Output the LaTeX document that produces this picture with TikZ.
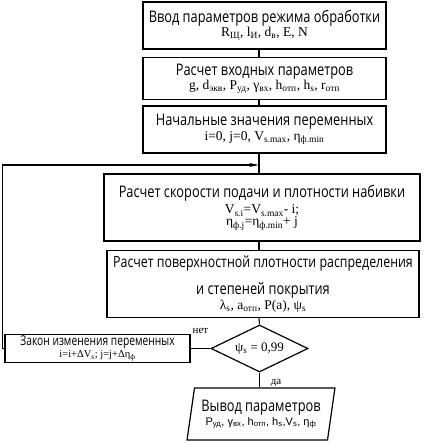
\documentclass[tikz,border=0pt]{standalone}
\usepackage{fontspec}
\setmainfont{Liberation Serif}
\newfontfamily\headfont{Open Sans}[FakeStretch=0.8]
\newfontfamily\lawfont{Open Sans}[FakeStretch=0.76]
\newfontfamily\smallsans{Liberation Sans}
\usetikzlibrary{shapes.geometric,arrows.meta}
\newcommand\sbs[1]{\textsubscript{#1}}
\newcommand\hdf{\headfont\fontsize{16}{17}\selectfont}
\newcommand\frm{\fontsize{13.5}{15}\selectfont}
\begin{document}
\begin{tikzpicture}[x=1pt,y=-1pt,
  blk/.style={draw,line width=1.2pt,rectangle,align=center,inner sep=0pt},
  ln/.style={line width=1.1pt},
  lbl/.style={font=\fontsize{11}{13}\selectfont,inner sep=0pt}]
\useasboundingbox (0,0) rectangle (423,443);
\node[blk,minimum width=243pt,minimum height=47pt] (b1) at (264.5,25.5)
  {{\hdf Ввод параметров режима обработки}\\
   {\frm R\sbs{Щ}, l\sbs{И}, d\sbs{в}, E, N}};
\node[blk,minimum width=243pt,minimum height=42pt] (b2) at (264.5,78.5)
  {{\hdf Расчет входных параметров}\\
   {\frm g, d\sbs{экв}, P\sbs{уд}, γ\sbs{вх}, h\sbs{отп}, h\sbs{s}, r\sbs{отп}}};
\node[blk,minimum width=243pt,minimum height=47pt] (b3) at (264.5,129.5)
  {{\hdf Начальные значения переменных}\\[1pt]
   {\frm i=0, j=0, V\sbs{s.max}, η\sbs{ф.min}}};
\node[blk,minimum width=316pt,minimum height=67pt] (b4) at (262,207.5)
  {{\hdf Расчет скорости подачи и плотности набивки}\\[3pt]
   {\frm V\sbs{s.i}=V\sbs{s.max}- i;}\\
   {\frm η\sbs{ф.j}=η\sbs{ф.min}+ j}};
\node[blk,minimum width=312pt,minimum height=67pt] (b5) at (263,284)
  {{\headfont\fontsize{15.5}{17}\selectfont Расчет поверхностной плотности распределения}\\[10pt]
   {\hdf и степеней покрытия}\\
   {\frm λ\sbs{s}, a\sbs{отп}, P(a), ψ\sbs{s}}};
\node[blk,diamond,minimum width=97pt,minimum height=47pt,aspect=2.06] (d) at (259.5,348.5)
  {\fontsize{13}{15}\selectfont ψ\sbs{s} = 0,99};
\node[blk,minimum width=185pt,minimum height=28pt] (law) at (97.5,348.5)
  {{\lawfont\fontsize{13.5}{13.5}\selectfont Закон изменения переменных}\\
   {\fontsize{10.5}{11}\selectfont i=i+ΔV\sbs{s}; j=j+Δη\sbs{ф}}};
\node[blk,trapezium,trapezium left angle=77,trapezium right angle=103,
  trapezium stretches=true,minimum width=148pt,minimum height=52pt] (out) at (261,414)
  {{\hdf Вывод параметров}\\[2pt]
   {\smallsans\fontsize{11}{12}\selectfont P\sbs{уд}, γ\sbs{вх}, h\sbs{отп}, h\sbs{s},V\sbs{s}, η\sbs{ф}}};
\node[lbl] (yes) at (276,383) {да};
\node[lbl] (no) at (200.5,331) {нет};
\coordinate (loopin) at (259,165);
\coordinate (c1) at (2.5,348.5);
\coordinate (c2) at (2.5,165);
\draw[ln] (b1.south -| loopin) -- (b2.north -| loopin);
\draw[ln] (b2.south -| loopin) -- (b3.north -| loopin);
\draw[ln] (b3.south -| loopin) -- (b4.north -| loopin);
\draw[ln] (b4.south -| loopin) -- (b5.north -| loopin);
\draw[ln] (b5.south -| loopin) -- (d.north);
\draw[ln] (d.south) -- (out.north -| d.south);
\draw[ln] (d.west) -- (law.east);
\draw[ln,-{Stealth[length=10pt,width=4pt]}] (law.west) -- (c1) -- (c2) -- (loopin);
\end{tikzpicture}
\end{document}
